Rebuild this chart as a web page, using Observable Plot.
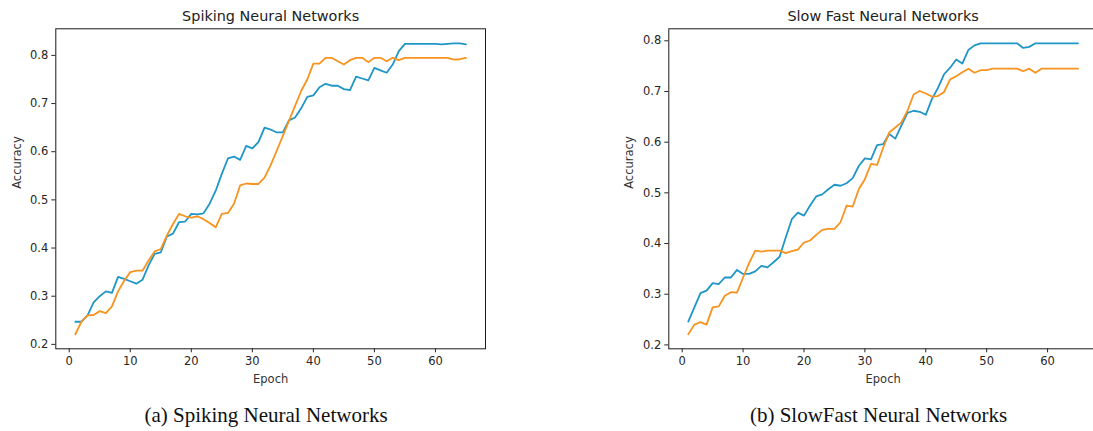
<!DOCTYPE html>
<html>
<head>
<meta charset="utf-8">
<script src="https://cdn.jsdelivr.net/npm/d3@7"></script>
<script src="https://cdn.jsdelivr.net/npm/@observablehq/plot@0.6"></script>
<style>
  html, body { margin: 0; padding: 0; background: #fff; overflow: hidden; }
  #wrap { position: relative; width: 1093px; height: 431px; overflow: hidden; background: #fff; }
  .panel { position: absolute; top: 0; width: 500px; height: 390px; }
  .panel svg { max-width: none !important; }
  .caption { position: absolute; top: 405px; font-family: "Liberation Serif", "Times New Roman", serif; font-size: 21px; line-height: 21px; color: #111; text-align: center; white-space: nowrap; }
</style>
</head>
<body>
<div id="wrap">
  <div id="left" class="panel" style="left:0px"></div>
  <div id="right" class="panel" style="left:613px"></div>
  <div class="caption" style="left:0px;width:532px">(a) Spiking Neural Networks</div>
  <div class="caption" style="left:664px;width:429px">(b) SlowFast Neural Networks</div>
</div>
<script>
const epochs = [1,2,3,4,5,6,7,8,9,10,11,12,13,14,15,16,17,18,19,20,21,22,23,24,25,26,27,28,29,30,31,32,33,34,35,36,37,38,39,40,41,42,43,44,45,46,47,48,49,50,51,52,53,54,55,56,57,58,59,60,61,62,63,64,65];

const snnBlue = [0.247,0.247,0.26,0.287,0.30,0.31,0.307,0.34,0.336,0.331,
                 0.326,0.334,0.364,0.388,0.391,0.424,0.43,0.454,0.455,0.471,
                 0.47,0.472,0.492,0.519,0.554,0.586,0.59,0.583,0.612,0.607,
                 0.62,0.65,0.646,0.64,0.64,0.665,0.671,0.69,0.714,0.717,
                 0.734,0.741,0.737,0.737,0.73,0.728,0.756,0.752,0.748,0.774,
                 0.769,0.764,0.781,0.809,0.824,0.824,0.824,0.824,0.824,0.824,
                 0.823,0.824,0.825,0.825,0.823];
const snnOrange = [0.221,0.247,0.26,0.261,0.269,0.265,0.279,0.31,0.332,0.35,
                   0.353,0.353,0.374,0.393,0.398,0.426,0.45,0.471,0.466,0.463,
                   0.466,0.46,0.452,0.443,0.471,0.473,0.492,0.53,0.534,0.533,
                   0.533,0.546,0.572,0.602,0.633,0.664,0.695,0.726,0.75,0.783,
                   0.783,0.795,0.795,0.788,0.781,0.79,0.795,0.795,0.786,0.795,
                   0.795,0.788,0.795,0.79,0.795,0.795,0.795,0.795,0.795,0.795,
                   0.795,0.795,0.791,0.792,0.795];

const sfBlue = [0.246,0.274,0.302,0.307,0.322,0.32,0.333,0.333,0.348,0.34,
                0.34,0.345,0.356,0.353,0.363,0.374,0.412,0.448,0.461,0.455,
                0.475,0.493,0.497,0.507,0.516,0.514,0.519,0.529,0.553,0.568,
                0.566,0.594,0.596,0.616,0.607,0.633,0.658,0.662,0.66,0.654,
                0.685,0.707,0.734,0.747,0.763,0.755,0.782,0.791,0.795,0.795,
                0.795,0.795,0.795,0.795,0.795,0.786,0.788,0.795,0.795,0.795,
                0.795,0.795,0.795,0.795,0.795];
const sfOrange = [0.221,0.24,0.245,0.24,0.274,0.276,0.297,0.304,0.303,0.333,
                  0.362,0.386,0.384,0.386,0.386,0.386,0.381,0.385,0.388,0.402,
                  0.406,0.417,0.427,0.429,0.429,0.442,0.475,0.473,0.507,0.527,
                  0.557,0.555,0.589,0.619,0.629,0.639,0.662,0.694,0.701,0.696,
                  0.69,0.691,0.699,0.724,0.73,0.738,0.745,0.737,0.742,0.742,
                  0.745,0.745,0.745,0.745,0.745,0.74,0.745,0.737,0.745,0.745,
                  0.745,0.745,0.745,0.745,0.745];

const xTicks = [0,10,20,30,40,50,60];
const yTicks = [0.2,0.3,0.4,0.5,0.6,0.7,0.8];
const titles = ["Spiking Neural Networks", "Slow Fast Neural Networks"];
const xLabel = "Epoch";
const yLabel = "Accuracy";

const BLUE = "#1f96c6";
const ORANGE = "#f7931e";

function rows(values) { return epochs.map((e, i) => ({epoch: e, acc: values[i]})); }

function padded(lo, hi) { const r = hi - lo; return [lo - 0.05 * r, hi + 0.05 * r]; }

function makePanel(blue, orange, title, marginRight, yLabelDx) {
  const all = blue.concat(orange);
  const e0 = d3.min(epochs), e1 = d3.max(epochs);
  return Plot.plot({
    width: 500,
    height: 390,
    marginLeft: 55.3,
    marginRight: marginRight,
    marginTop: 28.3,
    marginBottom: 41.7,
    style: {fontFamily: "'DejaVu Sans', sans-serif", fontSize: "11.5px", color: "#262626", background: "transparent", overflow: "visible", maxWidth: "none"},
    x: {domain: padded(e0, e1)},
    y: {domain: padded(d3.min(all), d3.max(all))},
    marks: [
      Plot.line(rows(blue), {x: "epoch", y: "acc", stroke: BLUE, strokeWidth: 1.8, strokeLinejoin: "round"}),
      Plot.line(rows(orange), {x: "epoch", y: "acc", stroke: ORANGE, strokeWidth: 1.8, strokeLinejoin: "round"}),
      Plot.frame({stroke: "#1a1a1a", strokeWidth: 1}),
      Plot.axisX({ticks: xTicks, tickSize: 4, tickPadding: 4.5, label: null}),
      Plot.axisY({ticks: yTicks, tickSize: 4, tickPadding: 3.5, label: null, tickFormat: d3.format(".1f")}),
      Plot.text([title], {text: d => d, frameAnchor: "top", lineAnchor: "bottom", dy: -8, fontSize: 14.4, fill: "#222"}),
      Plot.text([xLabel], {text: d => d, frameAnchor: "bottom", lineAnchor: "bottom", dy: 34, fill: "#333"}),
      Plot.text([yLabel], {text: d => d, frameAnchor: "left", lineAnchor: "bottom", rotate: -90, dx: yLabelDx, fill: "#333"})
    ]
  });
}

document.getElementById("left").appendChild(makePanel(snnBlue, snnOrange, titles[0], 15, -34.5));
document.getElementById("right").appendChild(makePanel(sfBlue, sfOrange, titles[1], 16, -35.5));
</script>
</body>
</html>
